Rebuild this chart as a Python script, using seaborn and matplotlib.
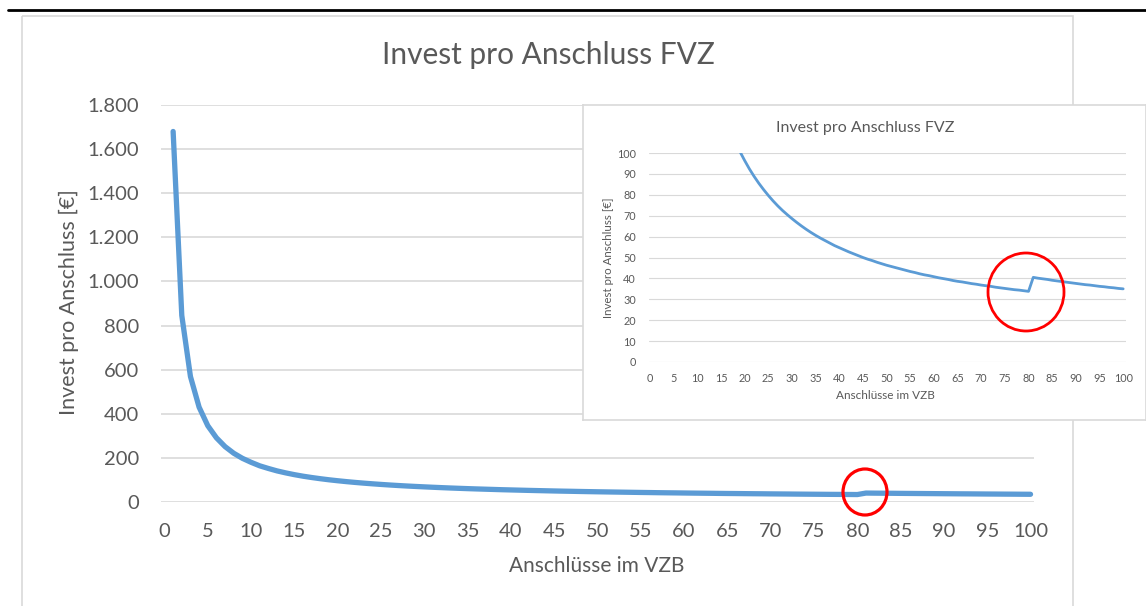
import matplotlib
matplotlib.use("Agg")
import matplotlib.pyplot as plt
from matplotlib.patches import Ellipse, Rectangle
from matplotlib.lines import Line2D
import seaborn as sns

# Anschlüsse im VZB (1..100) and invest per connection [EUR]
anschluesse = list(range(1, 101))
invest = [
    1680, 846, 569, 430, 346, 291, 251, 221, 198, 180,
    164, 152, 141, 132, 124, 117, 111, 105.6, 100.7, 96.4,
    92.4, 88.8, 85.5, 82.5, 79.7, 77.1, 74.7, 72.5, 70.5, 68.6,
    66.8, 65.1, 63.5, 62.0, 60.6, 59.3, 58.1, 56.9, 55.7, 54.7,
    53.7, 52.7, 51.8, 50.9, 50.0, 49.2, 48.5, 47.7, 47.0, 46.3,
    45.7, 45.1, 44.5, 43.9, 43.3, 42.8, 42.2, 41.7, 41.3, 40.8,
    40.3, 39.9, 39.5, 39.0, 38.6, 38.3, 37.9, 37.5, 37.2, 36.8,
    36.5, 36.2, 35.8, 35.5, 35.2, 34.9, 34.6, 34.4, 34.1, 33.8,
    40.5, 40.1, 39.8, 39.5, 39.1, 38.8, 38.5, 38.2, 37.9, 37.6,
    37.3, 37.0, 36.8, 36.5, 36.2, 36.0, 35.7, 35.5, 35.2, 35.0,
]

x_ticks = list(range(0, 101, 5))
main_y_ticks = list(range(0, 1801, 200))
main_y_labels = ["0", "200", "400", "600", "800", "1.000", "1.200", "1.400", "1.600", "1.800"]
inset_y_ticks = list(range(0, 101, 10))

title = "Invest pro Anschluss FVZ"
xlabel = "Anschlüsse im VZB"
ylabel = "Invest pro Anschluss [€]"

blue = "#5b9bd5"
grid = "#d9d9d9"
txt = "#595959"
W, H = 1146, 606

sns.set_theme(style="whitegrid")
plt.rcParams["font.family"] = ["Lato", "DejaVu Sans"]

fig = plt.figure(figsize=(W / 100, H / 100), dpi=100)
fig.patch.set_facecolor("white")


def px_axes(x0, y0, x1, y1, **kw):
    # axes from pixel box (top-left origin)
    return fig.add_axes([x0 / W, 1 - y1 / H, (x1 - x0) / W, (y1 - y0) / H], **kw)


# background: black rule on top and main chart frame
bg = px_axes(0, 0, W, H, zorder=0)
bg.set_xlim(0, W)
bg.set_ylim(H, 0)
bg.axis("off")
bg.add_line(Line2D([8, W], [10, 10], color="black", lw=2))
bg.add_patch(Rectangle((22, 16), 1073 - 22, 620, fill=False, ec=grid, lw=1.2))


def style_axes(ax, fs, pad_x, pad_y):
    ax.set_facecolor("none")
    for s in ax.spines.values():
        s.set_visible(False)
    ax.grid(axis="y", color=grid, lw=1.2 if fs > 10 else 0.8)
    ax.grid(axis="x", visible=False)
    ax.tick_params(length=0, labelsize=fs, labelcolor=txt)
    ax.tick_params(axis="x", pad=pad_x)
    ax.tick_params(axis="y", pad=pad_y)


# main chart
ax = px_axes(161, 105, 1034, 502, zorder=1)
sns.lineplot(x=anschluesse, y=invest, ax=ax, color=blue, lw=3.8, clip_on=False)
ax.set_xlim(-0.4, 100.4)
ax.set_ylim(0, 1800)
ax.set_xticks(x_ticks)
ax.set_yticks(main_y_ticks)
ax.set_yticklabels(main_y_labels)
style_axes(ax, 14.5, 15, 16)
ax.set_xlabel(xlabel, fontsize=15, color=txt)
ax.set_ylabel(ylabel, fontsize=15.5, color=txt)
ax.xaxis.set_label_coords((597 - 161) / 873, (502 - 556) / 397)
ax.yaxis.set_label_coords((79 - 161) / 873, (502 - 302) / 397)
fig.text(548 / W, 1 - 55 / H, title, ha="center", va="center", fontsize=21.5, color=txt)

# inset frame
frame = px_axes(583, 105, W - 0.5, 420, zorder=2)
frame.set_facecolor("white")
frame.set_xticks([])
frame.set_yticks([])
frame.grid(False)
for s in frame.spines.values():
    s.set_color(grid)
    s.set_linewidth(1.2)

# inset chart
ins = px_axes(648.6, 153, 1126, 362, zorder=3)
sns.lineplot(x=anschluesse, y=invest, ax=ins, color=blue, lw=2.0)
ins.set_xlim(-0.3, 100.6)
ins.set_ylim(0, 100)
ins.set_xticks(x_ticks)
ins.set_yticks(inset_y_ticks)
style_axes(ins, 7.8, 8, 9)
ins.set_xlabel(xlabel, fontsize=8.5, color=txt)
ins.set_ylabel(ylabel, fontsize=8.3, color=txt)
ins.xaxis.set_label_coords((885 - 648.6) / 477.4, (362 - 390) / 209)
ins.yaxis.set_label_coords((614 - 648.6) / 477.4, (362 - 258) / 209)
fig.text(865 / W, 1 - 128 / H, title, ha="center", va="center", fontsize=11.5,
         color=txt, zorder=5)

# red highlight circles
top = px_axes(0, 0, W, H, zorder=4)
top.set_xlim(0, W)
top.set_ylim(H, 0)
top.axis("off")
top.patch.set_alpha(0)
top.add_patch(Ellipse((865, 492), 44, 46, fill=False, ec="#ff0000", lw=2.3))
top.add_patch(Ellipse((1026, 292), 76, 78, fill=False, ec="#ff0000", lw=2.0))

fig.savefig("out.png", dpi=100)
